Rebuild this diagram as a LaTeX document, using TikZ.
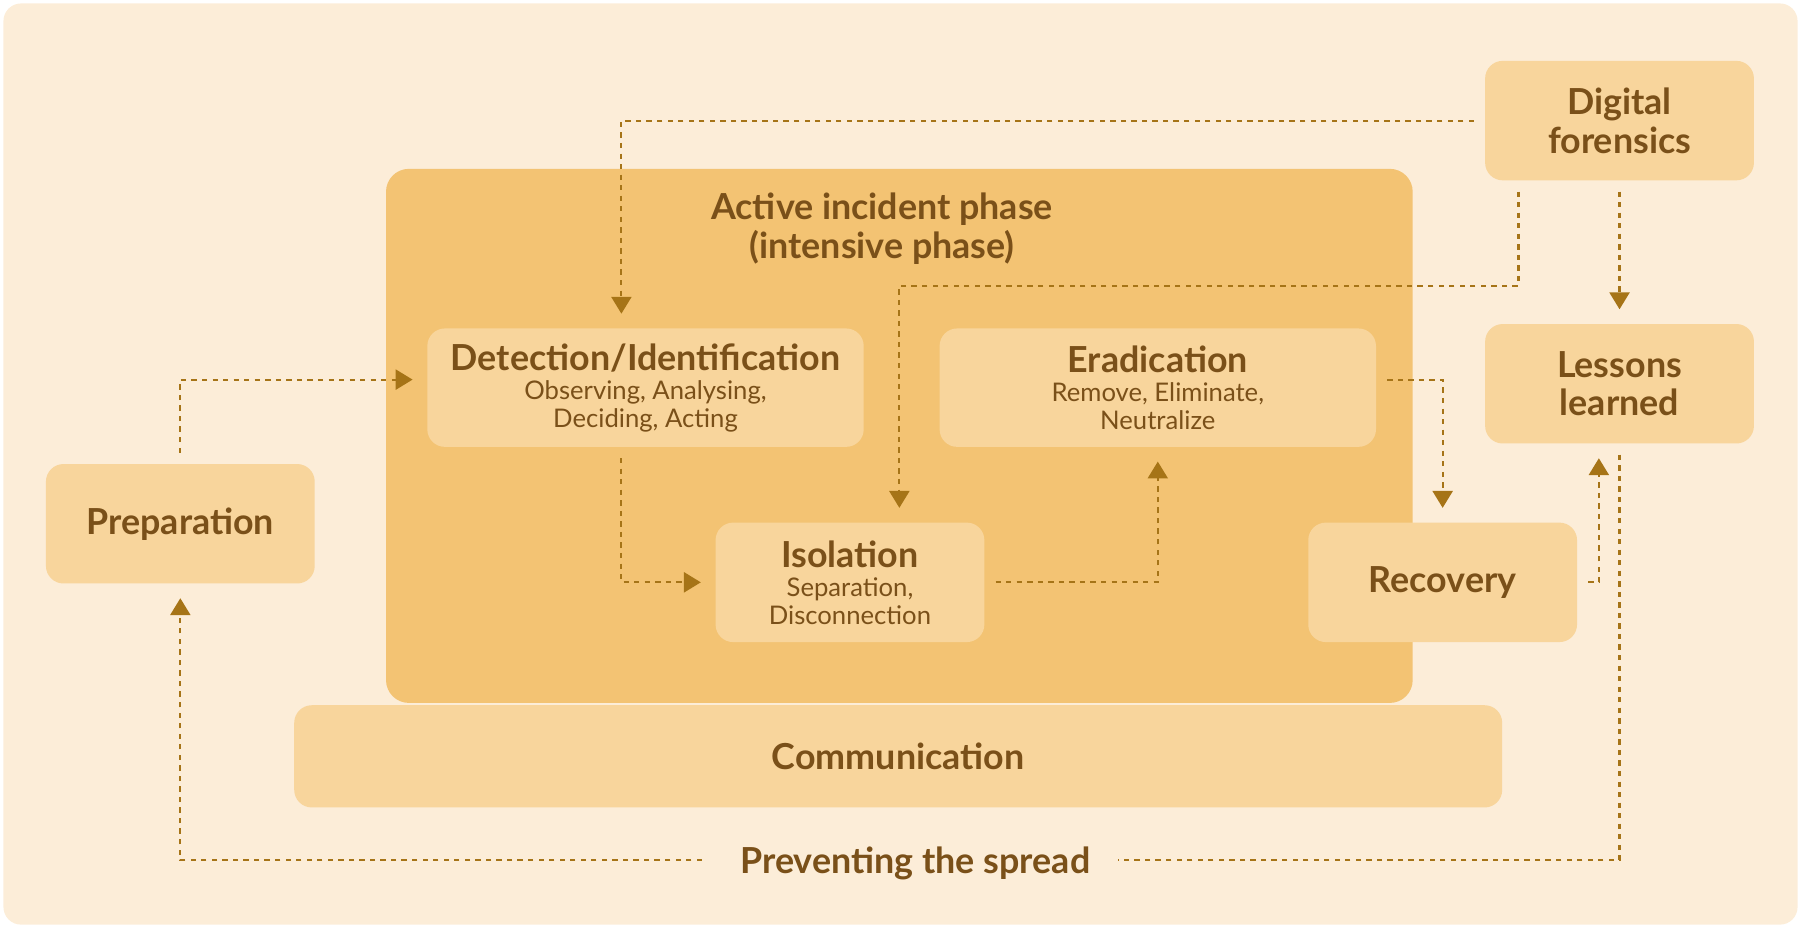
\documentclass[tikz,border=0pt]{standalone}
\usepackage{fontspec}
\setmainfont{Lato}
\usetikzlibrary{arrows.meta, positioning, calc}

\definecolor{pagebg}{HTML}{FCEDD8}
\definecolor{phasebg}{HTML}{F3C373}
\definecolor{boxbg}{HTML}{F8D59C}
\definecolor{textbrown}{HTML}{7A5019}
\definecolor{arrowbrown}{HTML}{A67417}

\newcommand{\stagefont}{\fontsize{10.2}{11}\selectfont\bfseries}
\newcommand{\notefont}{\fontsize{7.3}{7.9}\selectfont\mdseries}

\tikzset{
    stage/.style={
        rectangle,
        rounded corners=5pt,
        fill=boxbg,
        text=textbrown,
        align=center,
        inner sep=0pt,
        minimum width=76.5pt,
        minimum height=34pt,
        font=\stagefont,
        execute at begin node={\lineskiplimit=-\maxdimen}
    },
    widestage/.style={
        stage,
        minimum width=124.2pt,
        minimum height=33.7pt
    },
    phase/.style={
        rectangle,
        rounded corners=6.5pt,
        fill=phasebg,
        minimum width=292.2pt,
        minimum height=152pt
    },
    caption/.style={
        text=textbrown,
        align=center,
        font=\stagefont
    },
    flow/.style={
        draw=arrowbrown,
        line width=0.6pt,
        dash pattern=on 1.5pt off 1.5pt,
        shorten <=3pt,
        shorten >=4pt,
        -{Triangle[width=5.7pt,length=4.8pt]}
    },
    flowline/.style={
        flow,
        -,
        shorten >=0pt
    }
}

\begin{document}
\begin{tikzpicture}[x=0.011486cm, y=-0.011486cm]
\useasboundingbox (0,0) rectangle (1568,808);

% Background
\fill[pagebg, rounded corners=5pt] (3,3) rectangle (1565,805);

% Active phase block
\node[phase] (active) at (783,379.5) {};
\node[caption] (activetitle) at (768,199) {Active incident phase\\(intensive phase)};

% Stages inside the active phase
\node[widestage] (detect) at (562,337.5) {Detection/Identification\\[-2.6pt]\notefont Observing, Analysing,\\[-3.2pt]\notefont Deciding, Acting};
\node[widestage, right=21.2pt of detect] (erad) {Eradication\\[-2.6pt]\notefont Remove, Eliminate,\\[-3.2pt]\notefont Neutralize};
\node[stage] (isol) at (740,507) {Isolation\\[-2.6pt]\notefont Separation,\\[-3.2pt]\notefont Disconnection};

% Stages outside
\node[stage] (prep) at (157,456) {Preparation};
\node[stage] (recov) at (1256,507) {Recovery};
\node[stage] (forensics) at (1410,105) {Digital\\forensics};
\node[stage, below=40.5pt of forensics] (lessons) {Lessons\\learned};

% Communication bar
\node[stage, minimum width=343.8pt, minimum height=29.1pt] (comm) at (782,658.5) {Communication};

% Loop label
\node[caption, fill=pagebg, inner xsep=7.8pt, inner ysep=1pt, text depth=0pt] (spread) at (797,749) {Preventing the spread};

% Forensics feedback
\draw[flow] (forensics.west) -| ($(detect.north)+(-21,0)$);
\draw[flow] ($(forensics.south)+(-88,0)$) -- ++(0,91) -| ($(isol.north)+(43,0)$);
\draw[flow] (forensics) -- (lessons);

% Main sequence
\draw[flow] (prep.north) |- ($(detect.west)+(0,-7)$);
\draw[flow] ($(detect.south)+(-21,0)$) |- (isol.west);
\draw[flow] (isol.east) -| (erad.south);
\draw[flow] ($(erad.east)+(0,-7)$) -| (recov.north);
\draw[flow] (recov.east) -| ($(lessons.south)+(-18,0)$);

% Back to preparation
\draw[flowline] (lessons.south) |- (spread.east);
\draw[flow] (spread.west) -| (prep.south);

\end{tikzpicture}
\end{document}
